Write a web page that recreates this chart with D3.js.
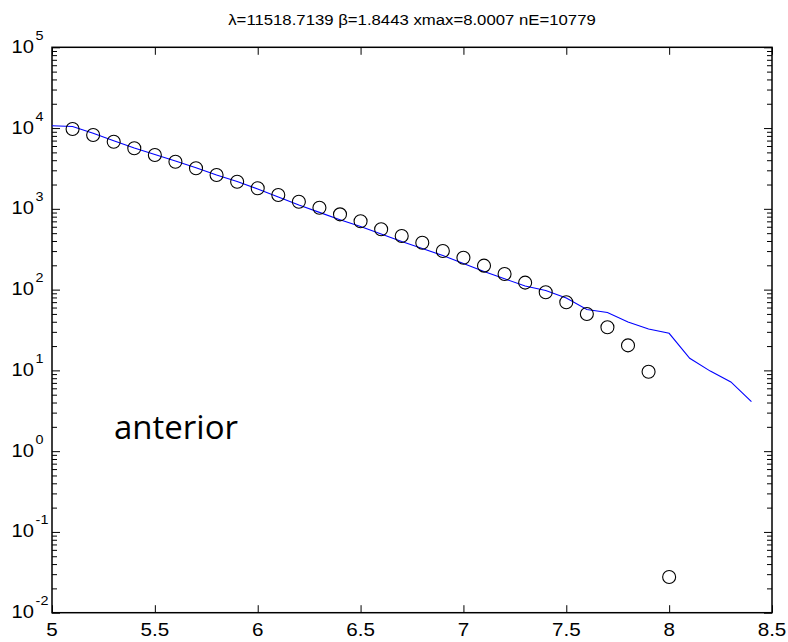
<!DOCTYPE html>
<html>
<head>
<meta charset="utf-8">
<script src="https://cdn.jsdelivr.net/npm/d3@7"></script>
<style>
  html, body { margin: 0; padding: 0; background: #fff; }
  svg { display: block; }
  text { font-family: "Liberation Sans", Arial, sans-serif; fill: #000; }
  text.note { font-family: "Open Sans", "Noto Sans", sans-serif; }
</style>
</head>
<body>
<svg id="chart" width="788" height="642"></svg>
<script>
// Observed event counts per magnitude bin (circles)
const obsX = [5.1, 5.2, 5.3, 5.4, 5.5, 5.6, 5.7, 5.8, 5.9, 6.0,
              6.1, 6.2, 6.3, 6.4, 6.5, 6.6, 6.7, 6.8, 6.9, 7.0,
              7.1, 7.2, 7.3, 7.4, 7.5, 7.6, 7.7, 7.8, 7.9, 8.0];
const obsY = [9740, 8210, 6780, 5620, 4640, 3835, 3177, 2624, 2168, 1796,
              1484, 1226, 1033, 855, 701, 558, 461, 381, 301, 248,
              198, 156, 122, 92.6, 69.7, 49.9, 34.2, 20.4, 9.6, 0.0277];

// Fitted model curve (blue line)
const fitX = [5.0, 5.1, 5.2, 5.3, 5.4, 5.5, 5.6, 5.7, 5.8, 5.9,
              6.0, 6.1, 6.2, 6.3, 6.4, 6.5, 6.6, 6.7, 6.8, 6.9,
              7.0, 7.1, 7.2, 7.3, 7.4, 7.5, 7.6, 7.7, 7.8, 7.9,
              8.0, 8.1, 8.2, 8.3, 8.4];
const fitY = [10700, 10460, 8612, 6977, 5666, 4709, 3911, 3230, 2624, 2180,
              1761, 1401, 1116, 904, 734, 604, 488, 394, 323, 264,
              210, 168, 136, 111, 97.5, 78.7, 56.7, 52.1, 39.7, 32.5,
              28.8, 14.1, 9.8, 7.2, 4.1];

// Axis ticks
const xTicks = [5, 5.5, 6, 6.5, 7, 7.5, 8, 8.5];
const xTickLabels = ["5", "5.5", "6", "6.5", "7", "7.5", "8", "8.5"];
const yExponents = [-2, -1, 0, 1, 2, 3, 4, 5];

const titleText = "\u03bb=11518.7139 \u03b2=1.8443 xmax=8.0007 nE=10779";
const annotation = "anterior";

const svg = d3.select("#chart");
const L = 52, R = 772, T = 47.3, B = 612.7;

const x = d3.scaleLinear().domain([5, 8.5]).range([L, R]);
const y = d3.scaleLog().domain([1e-2, 1e5]).range([B, T]);

const majorY = yExponents.map(e => Math.pow(10, e));
const minorY = [];
yExponents.slice(0, -1).forEach(e => {
  for (let m = 2; m <= 9; m++) minorY.push(m * Math.pow(10, e));
});

function styleAxis(g) {
  g.select(".domain").remove();
  g.selectAll(".tick line").attr("stroke", "#000").attr("stroke-width", 1);
  g.selectAll(".tick text").remove();
}

// x ticks, bottom and top, pointing inward
svg.append("g").attr("transform", `translate(0,${B})`)
  .call(d3.axisBottom(x).tickValues(xTicks).tickSize(-7.5)).call(styleAxis);
svg.append("g").attr("transform", `translate(0,${T})`)
  .call(d3.axisTop(x).tickValues(xTicks).tickSize(-7.5)).call(styleAxis);

// y ticks, left and right, major and minor
svg.append("g").attr("transform", `translate(${L},0)`)
  .call(d3.axisLeft(y).tickValues(majorY).tickSize(-8)).call(styleAxis);
svg.append("g").attr("transform", `translate(${L},0)`)
  .call(d3.axisLeft(y).tickValues(minorY).tickSize(-5)).call(styleAxis);
svg.append("g").attr("transform", `translate(${R},0)`)
  .call(d3.axisRight(y).tickValues(majorY).tickSize(-8)).call(styleAxis);
svg.append("g").attr("transform", `translate(${R},0)`)
  .call(d3.axisRight(y).tickValues(minorY).tickSize(-5)).call(styleAxis);

// Box
svg.append("rect")
  .attr("x", L).attr("y", T).attr("width", R - L).attr("height", B - T)
  .attr("fill", "none").attr("stroke", "#000").attr("stroke-width", 1.5);

// x tick labels
svg.append("g").selectAll("text")
  .data(xTicks)
  .join("text")
  .attr("transform", d => `translate(${x(d)},636) scale(1.18,1)`)
  .attr("text-anchor", "middle")
  .attr("font-size", 17.5)
  .text((d, i) => xTickLabels[i]);

// y tick labels as powers of ten
const yl = svg.append("g").selectAll("text")
  .data(yExponents)
  .join("text")
  .attr("transform", d => `translate(11.5,${y(Math.pow(10, d)) + 5.5}) scale(1.15,1)`)
  .attr("font-size", 17.5);
yl.append("tspan").text("10");
yl.append("tspan")
  .attr("dx", 1.5)
  .attr("dy", -13)
  .attr("font-size", 12.5)
  .text(d => String(d));

// Fitted curve
const line = d3.line().x(d => x(d[0])).y(d => y(d[1]));
svg.append("path")
  .datum(fitX.map((v, i) => [v, fitY[i]]))
  .attr("d", line)
  .attr("fill", "none")
  .attr("stroke", "#0000ff")
  .attr("stroke-width", 1.1);

// Observed counts
svg.append("g").selectAll("circle")
  .data(obsX.map((v, i) => [v, obsY[i]]))
  .join("circle")
  .attr("cx", d => x(d[0]))
  .attr("cy", d => y(d[1]))
  .attr("r", 6.5)
  .attr("fill", "none")
  .attr("stroke", "#000")
  .attr("stroke-width", 1.1);

// Title
svg.append("text")
  .attr("transform", `translate(${(L + R) / 2},25) scale(1.08,1)`)
  .attr("text-anchor", "middle")
  .attr("font-size", 15.5)
  .text(titleText);

// Region annotation
svg.append("text")
  .attr("class", "note")
  .attr("x", 114)
  .attr("y", 439)
  .attr("font-size", 33)
  .text(annotation);
</script>
</body>
</html>
